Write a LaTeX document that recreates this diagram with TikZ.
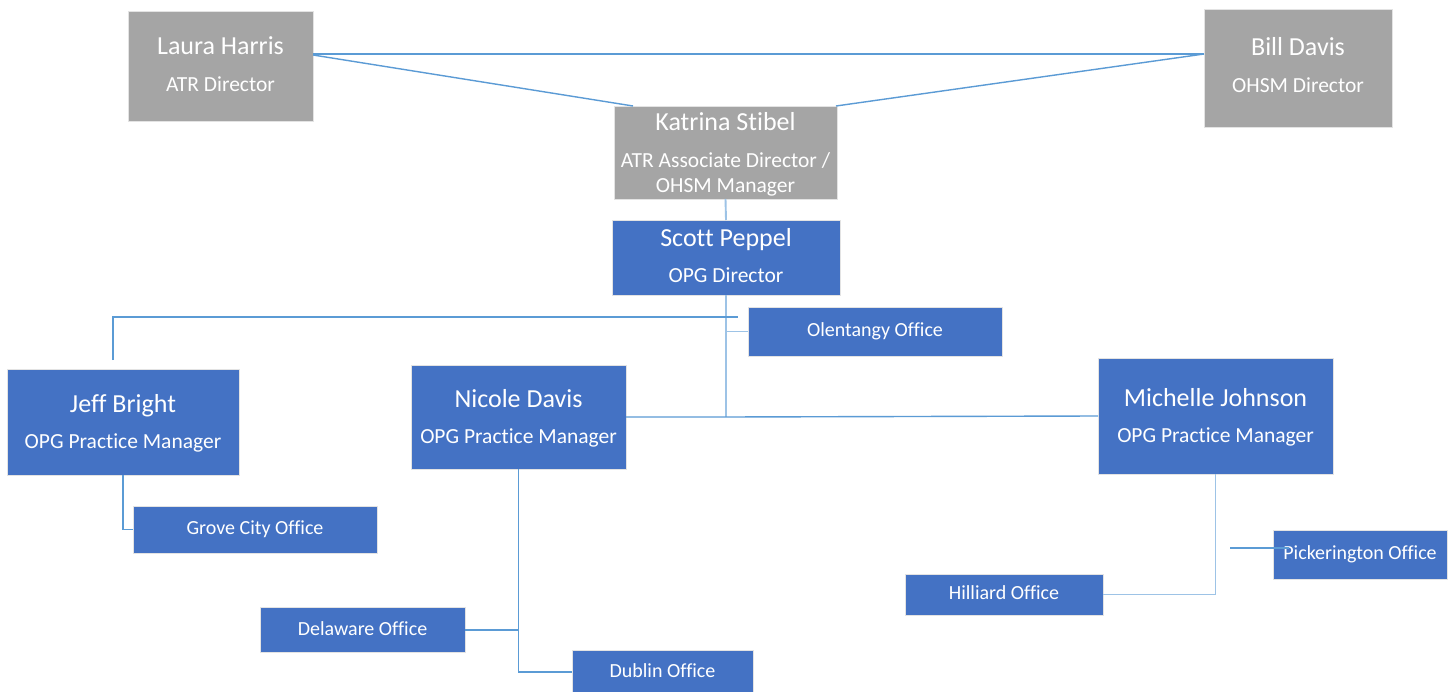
\documentclass[tikz,border=0pt]{standalone}
\usepackage{fontspec}
\setmainfont{Carlito}[Ligatures=NoCommon]
\definecolor{boxgray}{HTML}{A5A5A5}
\definecolor{boxblue}{HTML}{4472C4}
\definecolor{linkblue}{HTML}{5B9BD5}
\definecolor{linklight}{HTML}{9DC3E6}
\definecolor{edgegray}{HTML}{E3E3E3}
\begin{document}
\begin{tikzpicture}[x=1pt,y=-1pt,
  box/.style={rectangle,inner sep=0pt,outer sep=0pt,draw=edgegray,line width=0.8pt},
  graybox/.style={box,fill=boxgray},
  bluebox/.style={box,fill=boxblue},
  nametext/.style={anchor=base,text=white,inner sep=0pt,font=\fontsize{26}{30}\selectfont},
  titletext/.style={anchor=base,text=white,inner sep=0pt,font=\fontsize{21.5}{25}\selectfont},
  officetext/.style={anchor=base,text=white,inner sep=0pt,font=\fontsize{20}{24}\selectfont},
  link/.style={draw=linkblue,line width=1.4pt},
  linkl/.style={draw=linklight,line width=1.9pt}
]
\clip (0,0) rectangle (1455,692);
\fill[white] (0,0) rectangle (1455,692);

% ---- boxes ----
\node[graybox,minimum width=185pt,minimum height=110pt] (laura) at (220.5,66) {};
\node[graybox,minimum width=188pt,minimum height=118pt] (bill) at (1298,68) {};
\node[graybox,minimum width=223pt,minimum height=93pt] (katrina) at (725.5,152.5) {};
\node[bluebox,minimum width=228pt,minimum height=75pt] (scott) at (726,257.5) {};
\node[bluebox,minimum width=254pt,minimum height=49pt] (olent) at (875,331.5) {};
\node[bluebox,minimum width=232pt,minimum height=106pt] (jeff) at (123,422) {};
\node[bluebox,minimum width=215pt,minimum height=104pt] (nicole) at (518.5,417) {};
\node[bluebox,minimum width=235pt,minimum height=116pt] (michelle) at (1215.5,416) {};
\node[bluebox,minimum width=244pt,minimum height=47pt] (grove) at (255,529.5) {};
\node[bluebox,minimum width=205pt,minimum height=45pt] (delaware) at (362.5,630) {};
\node[bluebox,minimum width=181pt,minimum height=44pt] (dublin) at (662.5,672) {};
\node[bluebox,minimum width=198pt,minimum height=41pt] (hilliard) at (1004,594.5) {};
\node[bluebox,minimum width=174pt,minimum height=49pt] (picker) at (1360,554.5) {};

% ---- texts ----
\node[nametext] (lauraN) at ([yshift=11pt]laura.center) {Laura Harris};
\node[titletext] (lauraT) at ([yshift=-26pt]laura.center) {ATR Director};
\node[nametext] (billN) at ([yshift=12pt]bill.center) {Bill Davis};
\node[titletext] (billT) at ([yshift=-25pt]bill.center) {OHSM Director};
\node[nametext] (katN) at ([yshift=21.5pt]katrina.center) {Katrina Stibel};
\node[titletext] (katT1) at ([yshift=-15.5pt]katrina.center) {ATR Associate Director /};
\node[titletext] (katT2) at ([yshift=-40.5pt]katrina.center) {OHSM Manager};
\node[nametext] (scottN) at ([yshift=10.5pt]scott.center) {Scott Peppel};
\node[titletext] (scottT) at ([yshift=-25.5pt]scott.center) {OPG Director};
\node[nametext] (jeffN) at ([yshift=10pt]jeff.center) {Jeff Bright};
\node[titletext] (jeffT) at ([yshift=-26pt]jeff.center) {OPG Practice Manager};
\node[nametext] (nicN) at ([yshift=10pt]nicole.center) {Nicole Davis};
\node[titletext] (nicT) at ([yshift=-26pt]nicole.center) {OPG Practice Manager};
\node[nametext] (micN) at ([yshift=10pt]michelle.center) {Michelle Johnson};
\node[titletext] (micT) at ([yshift=-26pt]michelle.center) {OPG Practice Manager};
\node[officetext] (olentT) at ([yshift=-5pt]olent.center) {Olentangy Office};
\node[officetext] (groveT) at ([yshift=-5pt]grove.center) {Grove City Office};
\node[officetext] (delT) at ([yshift=-5pt]delaware.center) {Delaware Office};
\node[officetext] (dubT) at ([yshift=-5pt]dublin.center) {Dublin Office};
\node[officetext] (hilT) at ([yshift=-5pt]hilliard.center) {Hilliard Office};
\node[officetext] (pickT) at ([yshift=-5pt]picker.center) {Pickerington Office};

% ---- connectors ----
\coordinate (hub) at (726,417);
\coordinate (jtop) at (113,317);
\coordinate (jstub) at (113,360);
\coordinate (jend) at (738,317);
\coordinate (gcorner) at (123,529.5);
\coordinate (pstub) at (1230,548);

\draw[link] ([yshift=12pt]laura.east) -- ([yshift=14pt]bill.west);
\draw[link] ([yshift=11pt]laura.east) -- ([xshift=19pt]katrina.north west);
\draw[link] ([yshift=14pt]bill.west) -- ([xshift=-1pt]katrina.north east);
\draw[linkl] (katrina.south) -- (scott.north);
\draw[linkl] (scott.south) -- (hub);
\draw[link] (nicole.east) -- (hub) -- (michelle.west);
\draw[link] (jstub) -- (jtop) -- (jend);
\draw[linkl] (scott.south |- olent.west) -- (olent.west);
\draw[link] (jeff.south -| gcorner) -- (gcorner) -- (grove.west);
\draw[link] (nicole.south) -- (nicole.south |- dublin.west) -- (dublin.west);
\draw[link] (delaware.east) -- (nicole.south |- delaware.east);
\draw[linkl] (michelle.south) -- (michelle.south |- hilliard.east) -- (hilliard.east);
\draw[link] (pstub) -- ([xshift=16pt,yshift=6.5pt]picker.west);
\end{tikzpicture}
\end{document}
